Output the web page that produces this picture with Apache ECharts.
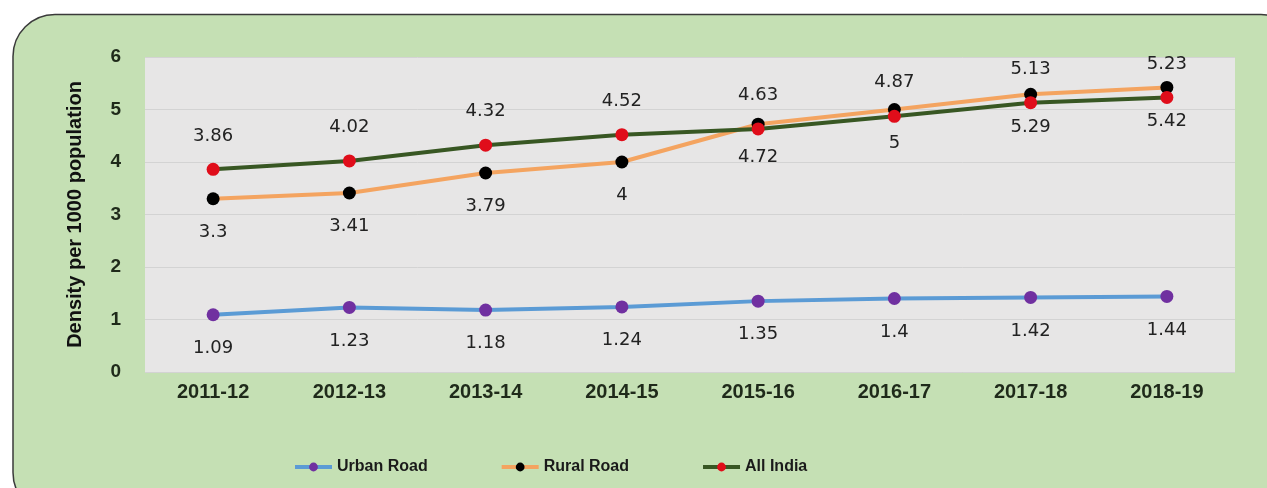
<!DOCTYPE html>
<html>
<head>
<meta charset="utf-8">
<script src="https://cdn.jsdelivr.net/npm/echarts@6/dist/echarts.min.js"></script>
<style>
html,body{margin:0;padding:0;background:#fff;}
#chart{width:1267px;height:488px;}
</style>
</head>
<body>
<div id="chart"></div>
<script>
const categories = ['2011-12','2012-13','2013-14','2014-15','2015-16','2016-17','2017-18','2018-19'];
const urbanRoad = [1.09, 1.23, 1.18, 1.24, 1.35, 1.4, 1.42, 1.44];
const ruralRoad = [3.3, 3.41, 3.79, 4, 4.72, 5, 5.29, 5.42];
const allIndia = [3.86, 4.02, 4.32, 4.52, 4.63, 4.87, 5.13, 5.23];
const yTicks = [0, 1, 2, 3, 4, 5, 6];
const seriesNames = ['Urban Road', 'Rural Road', 'All India'];
const yTitle = 'Density per 1000 population';

const chart = echarts.init(document.getElementById('chart'));
const labelFont = {fontFamily: 'DejaVu Sans', fontSize: 18, color: '#222'};
function mkSeries(name, data, lineColor, markColor, pos) {
  return {
    name: name, type: 'line', data: data,
    symbol: 'circle', symbolSize: 13,
    lineStyle: {color: lineColor, width: 4},
    itemStyle: {color: markColor},
    label: Object.assign({show: true, position: pos, distance: 18}, labelFont),
    emphasis: {disabled: true}
  };
}
chart.setOption({
  animation: false,
  backgroundColor: '#ffffff',
  graphic: [{
    type: 'rect', z: -10, silent: true,
    shape: {x: 13, y: 14.5, width: 1290, height: 500, r: 42},
    style: {fill: '#c5e0b4', stroke: '#3a3a3a', lineWidth: 1.5}
  }],
  grid: {
    left: 145, right: 32, top: 57, bottom: 116,
    show: true, backgroundColor: '#e7e6e6', borderWidth: 0
  },
  legend: {
    data: seriesNames,
    left: 288, top: 454,
    itemWidth: 37, itemHeight: 11, itemGap: 72,
    lineStyle: {width: 4},
    textStyle: {fontFamily: 'Liberation Sans', fontWeight: 'bold', fontSize: 16, color: '#1a1a1a'}
  },
  xAxis: {
    type: 'category', data: categories, boundaryGap: true,
    axisLine: {show: false}, axisTick: {show: false},
    axisLabel: {margin: 10, fontFamily: 'Liberation Sans', fontWeight: 'bold', fontSize: 20, color: '#1f2a1a'}
  },
  yAxis: {
    type: 'value', min: yTicks[0], max: yTicks[yTicks.length - 1], interval: 1,
    name: yTitle, nameLocation: 'middle', nameGap: 60, nameRotate: 90,
    nameTextStyle: {fontFamily: 'Liberation Sans', fontWeight: 'bold', fontSize: 20, color: '#111'},
    axisLine: {show: false}, axisTick: {show: false},
    splitLine: {lineStyle: {color: '#d3d3d3', width: 1}},
    axisLabel: {margin: 24, fontFamily: 'Liberation Sans', fontWeight: 'bold', fontSize: 19, color: '#1f2a1a'}
  },
  series: [
    mkSeries(seriesNames[0], urbanRoad, '#5b9bd5', '#7030a0', 'bottom'),
    mkSeries(seriesNames[1], ruralRoad, '#f4a460', '#000000', 'bottom'),
    mkSeries(seriesNames[2], allIndia, '#385723', '#e00d1a', 'top')
  ]
});
</script>
</body>
</html>
